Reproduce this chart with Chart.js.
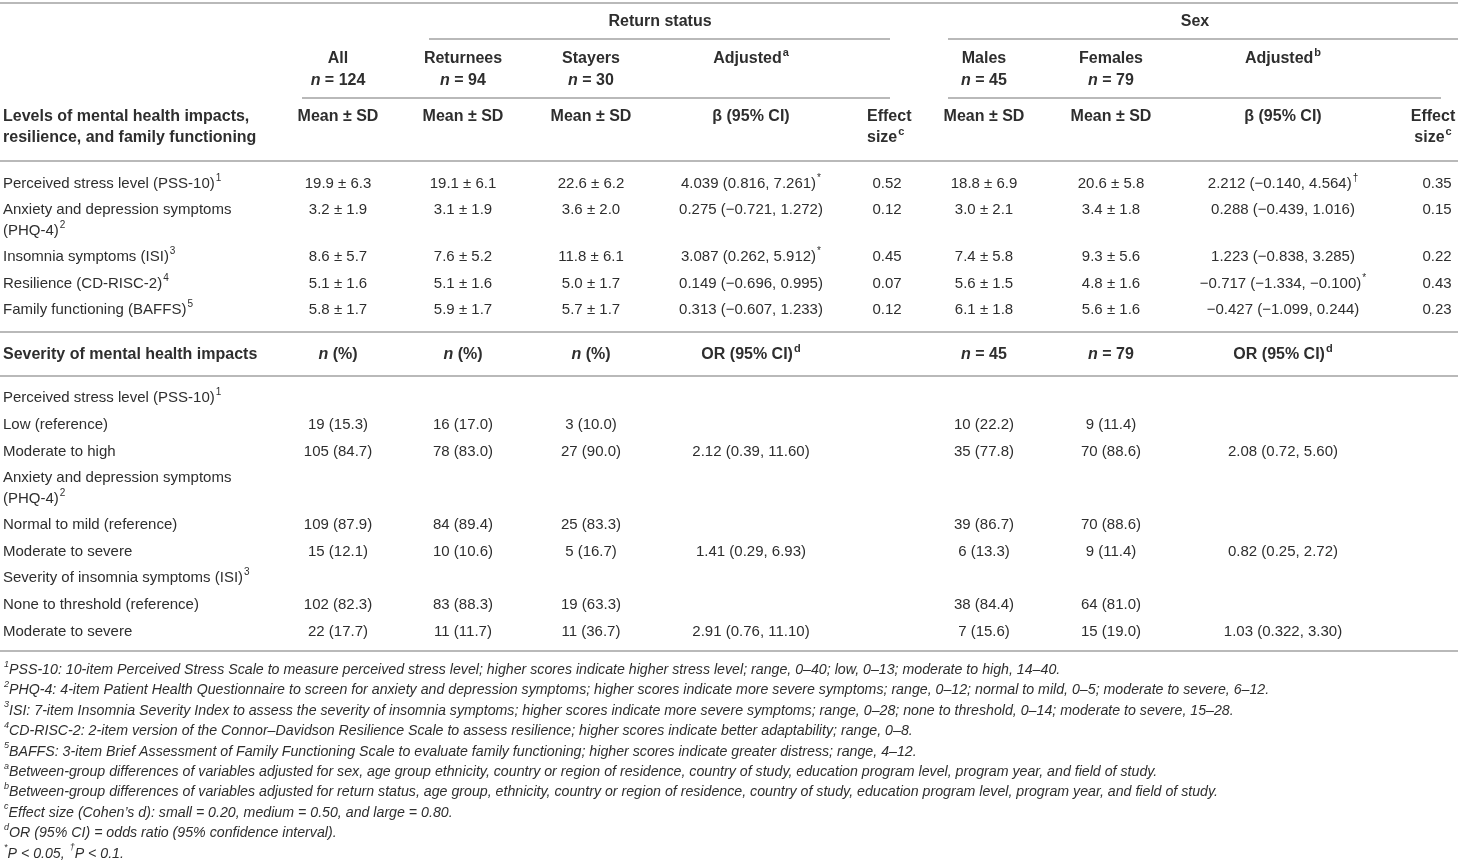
<!DOCTYPE html>
<html lang="en">
<head>
<meta charset="UTF-8" />
<meta name="viewport" content="width=device-width, initial-scale=1.0" />
<script src="https://cdn.jsdelivr.net/npm/chart.js"></script>
<title>Mental health impacts by return status and sex</title>
<style>
  html, body { margin: 0; padding: 0; background: #fff; }
  #wrap { width: 1458px; height: 863px; }
</style>
</head>
<body>
<div id="wrap"><canvas id="table" width="1458" height="863"></canvas></div>
<script>
// ---- table content ('^x' = superscript char, '~' toggles italic, '|' = line break)
const groupHeads = ['Return status', 'Sex'];
const colHeads = ['All', 'Returnees', 'Stayers', 'Adjusted^a', '', 'Males', 'Females', 'Adjusted^b', ''];
const colCounts = ['~n~ = 124', '~n~ = 94', '~n~ = 30', '', '', '~n~ = 45', '~n~ = 79', '', ''];
const statHeads = ['Mean ± SD', 'Mean ± SD', 'Mean ± SD', 'β (95% CI)', 'Effect|size^c',
                   'Mean ± SD', 'Mean ± SD', 'β (95% CI)', 'Effect|size^c'];

const levelTitle = 'Levels of mental health impacts,|resilience, and family functioning';
const levelRows = ['Perceived stress level (PSS-10)^1', 'Anxiety and depression symptoms|(PHQ-4)^2',
                   'Insomnia symptoms (ISI)^3', 'Resilience (CD-RISC-2)^4', 'Family functioning (BAFFS)^5'];
const levelAll = ['19.9 ± 6.3', '3.2 ± 1.9', '8.6 ± 5.7', '5.1 ± 1.6', '5.8 ± 1.7'];
const levelReturnees = ['19.1 ± 6.1', '3.1 ± 1.9', '7.6 ± 5.2', '5.1 ± 1.6', '5.9 ± 1.7'];
const levelStayers = ['22.6 ± 6.2', '3.6 ± 2.0', '11.8 ± 6.1', '5.0 ± 1.7', '5.7 ± 1.7'];
const levelAdjReturn = ['4.039 (0.816, 7.261)^*', '0.275 (−0.721, 1.272)', '3.087 (0.262, 5.912)^*',
                        '0.149 (−0.696, 0.995)', '0.313 (−0.607, 1.233)'];
const levelEffReturn = ['0.52', '0.12', '0.45', '0.07', '0.12'];
const levelMales = ['18.8 ± 6.9', '3.0 ± 2.1', '7.4 ± 5.8', '5.6 ± 1.5', '6.1 ± 1.8'];
const levelFemales = ['20.6 ± 5.8', '3.4 ± 1.8', '9.3 ± 5.6', '4.8 ± 1.6', '5.6 ± 1.6'];
const levelAdjSex = ['2.212 (−0.140, 4.564)^†', '0.288 (−0.439, 1.016)', '1.223 (−0.838, 3.285)',
                     '−0.717 (−1.334, −0.100)^*', '−0.427 (−1.099, 0.244)'];
const levelEffSex = ['0.35', '0.15', '0.22', '0.43', '0.23'];

const sevTitle = 'Severity of mental health impacts';
const sevHeads = ['~n~ (%)', '~n~ (%)', '~n~ (%)', 'OR (95% CI)^d', '', '~n~ = 45', '~n~ = 79', 'OR (95% CI)^d', ''];
const sevRows = ['Perceived stress level (PSS-10)^1', 'Low (reference)', 'Moderate to high',
                 'Anxiety and depression symptoms|(PHQ-4)^2', 'Normal to mild (reference)', 'Moderate to severe',
                 'Severity of insomnia symptoms (ISI)^3', 'None to threshold (reference)', 'Moderate to severe'];
const sevAll = ['', '19 (15.3)', '105 (84.7)', '', '109 (87.9)', '15 (12.1)', '', '102 (82.3)', '22 (17.7)'];
const sevReturnees = ['', '16 (17.0)', '78 (83.0)', '', '84 (89.4)', '10 (10.6)', '', '83 (88.3)', '11 (11.7)'];
const sevStayers = ['', '3 (10.0)', '27 (90.0)', '', '25 (83.3)', '5 (16.7)', '', '19 (63.3)', '11 (36.7)'];
const sevOrReturn = ['', '', '2.12 (0.39, 11.60)', '', '', '1.41 (0.29, 6.93)', '', '', '2.91 (0.76, 11.10)'];
const sevMales = ['', '10 (22.2)', '35 (77.8)', '', '39 (86.7)', '6 (13.3)', '', '38 (84.4)', '7 (15.6)'];
const sevFemales = ['', '9 (11.4)', '70 (88.6)', '', '70 (88.6)', '9 (11.4)', '', '64 (81.0)', '15 (19.0)'];
const sevOrSex = ['', '', '2.08 (0.72, 5.60)', '', '', '0.82 (0.25, 2.72)', '', '', '1.03 (0.322, 3.30)'];

const footnotes = [
  '^1PSS-10: 10-item Perceived Stress Scale to measure perceived stress level; higher scores indicate higher stress level; range, 0–40; low, 0–13; moderate to high, 14–40.',
  '^2PHQ-4: 4-item Patient Health Questionnaire to screen for anxiety and depression symptoms; higher scores indicate more severe symptoms; range, 0–12; normal to mild, 0–5; moderate to severe, 6–12.',
  '^3ISI: 7-item Insomnia Severity Index to assess the severity of insomnia symptoms; higher scores indicate more severe symptoms; range, 0–28; none to threshold, 0–14; moderate to severe, 15–28.',
  '^4CD-RISC-2: 2-item version of the Connor–Davidson Resilience Scale to assess resilience; higher scores indicate better adaptability; range, 0–8.',
  '^5BAFFS: 3-item Brief Assessment of Family Functioning Scale to evaluate family functioning; higher scores indicate greater distress; range, 4–12.',
  '^aBetween-group differences of variables adjusted for sex, age group ethnicity, country or region of residence, country of study, education program level, program year, and field of study.',
  '^bBetween-group differences of variables adjusted for return status, age group, ethnicity, country or region of residence, country of study, education program level, program year, and field of study.',
  '^cEffect size (Cohen’s d): small = 0.20, medium = 0.50, and large = 0.80.',
  '^dOR (95% CI) = odds ratio (95% confidence interval).',
  '^*P < 0.05, ^†P < 0.1.'
];

// ---- layout (scale units == page pixels)
const W = 1458, H = 863;
const labelX = 3;
const colX = [338, 463, 591, 751, 887, 984, 1111, 1283, 1437];
const statHeadX = [338, 463, 591, 751, 867, 984, 1111, 1283, 1433];
const statHeadAlign = ['center', 'center', 'center', 'center', 'left', 'center', 'center', 'center', 'center'];
const groupX = [660, 1195];
const headY = { group: 22, col: 59, count: 81, stat: 117 };
const levelY = [184, 210, 257, 284, 310];
const sevHeadY = 355;
const sevY = [398, 425, 452, 478, 525, 552, 578, 605, 632];
const footY0 = 670, footStep = 20.4;
const lineGap = 21;
const rules = [
  [0, W, 3], [429, 890, 39], [948, W, 39], [302, 890, 98], [948, 1441, 98],
  [0, W, 161], [0, W, 332], [0, W, 376], [0, W, 651]
];

const FONT = '"Liberation Sans", Arial, Helvetica, sans-serif';
const TEXT_COLOR = '#2e2e2e';
const RULE_COLOR = '#b9b9b9';
const BODY_SIZE = 15, HEAD_SIZE = 16, NOTE_SIZE = 14.2;

// ---- build the cell points
const cells = [];
function addCell(x, y, text, opts) {
  if (!text) return;
  cells.push(Object.assign({ x: x, y: y, text: text, bold: false, italic: false, align: 'center', size: BODY_SIZE }, opts || {}));
}

const head = { bold: true, size: HEAD_SIZE };
groupHeads.forEach((t, i) => addCell(groupX[i], headY.group, t, head));
colHeads.forEach((t, i) => addCell(colX[i], headY.col, t, head));
colCounts.forEach((t, i) => addCell(colX[i], headY.count, t, head));
addCell(labelX, headY.stat, levelTitle, { bold: true, size: HEAD_SIZE, align: 'left' });
statHeads.forEach((t, i) => addCell(statHeadX[i], headY.stat, t, { bold: true, size: HEAD_SIZE, align: statHeadAlign[i] }));

const levelCols = [levelAll, levelReturnees, levelStayers, levelAdjReturn, levelEffReturn,
                   levelMales, levelFemales, levelAdjSex, levelEffSex];
levelRows.forEach((t, r) => {
  addCell(labelX, levelY[r], t, { align: 'left' });
  levelCols.forEach((col, c) => addCell(colX[c], levelY[r], col[r]));
});

addCell(labelX, sevHeadY, sevTitle, { bold: true, size: HEAD_SIZE, align: 'left' });
sevHeads.forEach((t, i) => addCell(colX[i], sevHeadY, t, head));
const sevCols = [sevAll, sevReturnees, sevStayers, sevOrReturn, [], sevMales, sevFemales, sevOrSex, []];
sevRows.forEach((t, r) => {
  addCell(labelX, sevY[r], t, { align: 'left' });
  sevCols.forEach((col, c) => addCell(colX[c], sevY[r], col[r]));
});

footnotes.forEach((t, i) => addCell(labelX, footY0 + i * footStep, t, { italic: true, align: 'left', size: NOTE_SIZE }));

// ---- rich text helpers
function parseRich(str, baseItalic) {
  const segs = [];
  let italic = baseItalic, buf = '';
  const flush = () => { if (buf) segs.push({ t: buf, it: italic, sup: false }); buf = ''; };
  for (let i = 0; i < str.length; i++) {
    const ch = str[i];
    if (ch === '~') { flush(); italic = !italic; }
    else if (ch === '^') { flush(); segs.push({ t: str[i + 1], it: italic, sup: true }); i++; }
    else buf += ch;
  }
  flush();
  return segs;
}

function segFont(seg, cell) {
  const size = seg.sup ? Math.round(cell.size * 0.66) : cell.size;
  return (seg.it ? 'italic ' : '') + (cell.bold ? 'bold ' : '') + size + 'px ' + FONT;
}

function drawRich(ctx, cell, px, py) {
  const lines = cell.text.split('|');
  lines.forEach((line, k) => {
    const segs = parseRich(line, cell.italic);
    let width = 0;
    segs.forEach(s => { ctx.font = segFont(s, cell); s.w = ctx.measureText(s.t).width; width += s.w + (s.sup ? 1 : 0); });
    let x = px;
    if (cell.align === 'center') x = px - width / 2;
    const y = py + k * lineGap;
    segs.forEach(s => {
      ctx.font = segFont(s, cell);
      if (s.sup) { ctx.fillText(s.t, x + 1, y - 6); x += s.w + 1; }
      else { ctx.fillText(s.t, x, y); x += s.w; }
    });
  });
}

const cellTextPlugin = {
  id: 'cellText',
  afterDatasetsDraw(chart) {
    const ctx = chart.ctx;
    ctx.save();
    ctx.fillStyle = TEXT_COLOR;
    ctx.textBaseline = 'middle';
    ctx.textAlign = 'left';
    chart.data.datasets.forEach((ds, di) => {
      if (ds.kind !== 'cells') return;
      const meta = chart.getDatasetMeta(di);
      meta.data.forEach((pt, i) => drawRich(ctx, ds.data[i], pt.x, pt.y));
    });
    ctx.restore();
  }
};

const ruleSets = rules.map(r => ({
  kind: 'rule',
  data: [{ x: r[0], y: r[2] }, { x: r[1], y: r[2] }],
  showLine: true,
  borderColor: RULE_COLOR,
  borderWidth: 2,
  pointRadius: 0
}));

new Chart(document.getElementById('table').getContext('2d'), {
  type: 'scatter',
  data: {
    datasets: ruleSets.concat([{ kind: 'cells', data: cells, pointRadius: 0 }])
  },
  options: {
    responsive: false,
    animation: false,
    devicePixelRatio: 1,
    layout: { padding: 0 },
    plugins: { legend: { display: false }, tooltip: { enabled: false } },
    scales: {
      x: { type: 'linear', min: 0, max: W, display: false },
      y: { type: 'linear', min: 0, max: H, reverse: true, display: false }
    }
  },
  plugins: [cellTextPlugin]
});
</script>
</body>
</html>
